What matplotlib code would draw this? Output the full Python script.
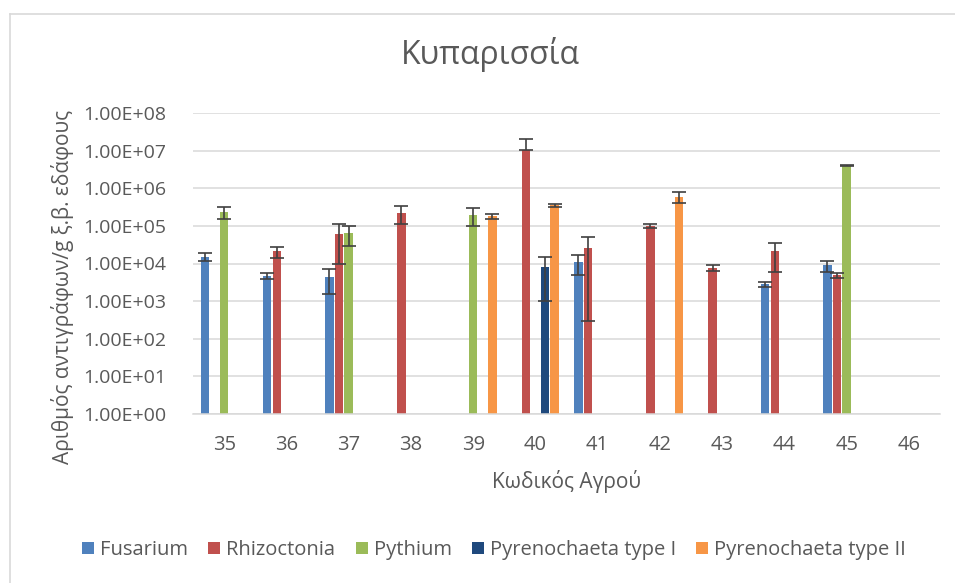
import matplotlib
matplotlib.use('Agg')
import matplotlib.pyplot as plt
from matplotlib.lines import Line2D
from matplotlib.patches import Patch
import numpy as np

plt.rcParams['font.family'] = ['Open Sans', 'DejaVu Sans']

nan = np.nan
fields = ['35', '36', '37', '38', '39', '40', '41', '42', '43', '44', '45', '46']

series = ['Fusarium', 'Rhizoctonia', 'Pythium', 'Pyrenochaeta type I', 'Pyrenochaeta type II']
colors = ['#4F81BD', '#C0504D', '#9BBB59', '#1F497D', '#F79646']

fusarium = [1.5e4, 4.7e3, 4.3e3, nan, nan, nan, 1.1e4, nan, nan, 2.8e3, 8.9e3, nan]
fusarium_err = [3.5e3, 8e2, 2.8e3, nan, nan, nan, 6e3, nan, nan, 4e2, 3e3, nan]

rhizoctonia = [nan, 2.1e4, 6e4, 2.2e5, nan, 1.05e7, 2.6e4, 1e5, 7.8e3, 2.1e4, 4.9e3, nan]
rhizoctonia_err = [nan, 7e3, 5e4, 1.1e5, nan, 1.05e7, 2.57e4, 1.3e4, 1.5e3, 1.5e4, 8e2, nan]

pythium = [2.3e5, nan, 6.5e4, nan, 2e5, nan, nan, nan, nan, nan, 4e6, nan]
pythium_err = [8e4, nan, 3.5e4, nan, 1e5, nan, nan, nan, nan, nan, 1e5, nan]

pyreno1 = [nan, nan, nan, nan, nan, 8e3, nan, nan, nan, nan, nan, nan]
pyreno1_err = [nan, nan, nan, nan, nan, 7e3, nan, nan, nan, nan, nan, nan]

pyreno2 = [nan, nan, nan, nan, 1.8e5, 3.5e5, nan, 6e5, nan, nan, nan, nan]
pyreno2_err = [nan, nan, nan, nan, 2.4e4, 3.5e4, nan, 2e5, nan, nan, nan, nan]

values = [fusarium, rhizoctonia, pythium, pyreno1, pyreno2]
errors = [fusarium_err, rhizoctonia_err, pythium_err, pyreno1_err, pyreno2_err]

text_col = '#595959'
grid_col = '#D9D9D9'

fig = plt.figure(figsize=(9.55, 5.83), dpi=100)
ax = fig.add_axes([193/955, 1 - 414/583, (940 - 193)/955, (414 - 113)/583])

x = np.arange(len(fields))
slot = 0.154
width = 0.137
for i, (vals, errs, col) in enumerate(zip(values, errors, colors)):
    v = np.array(vals, dtype=float)
    e = np.array(errs, dtype=float)
    pos = x + (i - 2) * slot
    ax.bar(pos, v, width=width, color=col, zorder=2)
    # a lower bar that would reach zero is cut at the bar top on the log axis
    lower = np.where(e < v, e, 0.0)
    ax.errorbar(pos, v, yerr=[lower, e], fmt='none', ecolor='#404040',
                elinewidth=1.2, capsize=5, capthick=1.2, zorder=3)

ax.set_yscale('log')
ax.set_ylim(1, 1e8)
ax.set_xlim(-0.5, len(fields) - 0.5)
ax.set_yticks([10.0**k for k in range(9)])
ax.set_yticklabels(['1.00E+%02d' % k for k in range(9)])
ax.yaxis.set_minor_locator(matplotlib.ticker.NullLocator())
ax.set_xticks(x)
ax.set_xticklabels(fields)

ax.grid(axis='y', color=grid_col, linewidth=1.1, zorder=0)
ax.set_axisbelow(True)
for s in ['top', 'right', 'left']:
    ax.spines[s].set_visible(False)
ax.spines['bottom'].set_color(grid_col)
ax.spines['bottom'].set_linewidth(1.1)
ax.tick_params(axis='both', length=0, colors=text_col)
ax.tick_params(axis='y', labelsize=14, pad=19)
ax.tick_params(axis='x', labelsize=14.5, pad=15)

ax.set_xlabel('Κωδικός Αγρού', fontsize=15, color=text_col, labelpad=11)
fig.text(63/955, 1 - 287/583, 'Αριθμός αντιγράφων/g ξ.β. εδάφους', rotation=90,
         ha='center', va='center', fontsize=15, color=text_col)
fig.text(490/955, 1 - 54/583, 'Κυπαρισσία', ha='center', va='center',
         fontsize=23, color=text_col)

handles = [Patch(facecolor=c, edgecolor='none') for c in colors]
fig.legend(handles, series, loc='center', bbox_to_anchor=(494/955, 1 - 550/583),
           ncol=5, frameon=False, fontsize=14.5, handlelength=0.6, handleheight=0.6,
           handletextpad=0.3, columnspacing=1.0, labelcolor=text_col)

# chart area frame
fig.add_artist(Line2D([10/955, 10/955], [0, 1 - 14/583], transform=fig.transFigure,
                      color=grid_col, linewidth=1.2))
fig.add_artist(Line2D([10/955, 1], [1 - 14/583, 1 - 14/583], transform=fig.transFigure,
                      color=grid_col, linewidth=1.2))

fig.savefig('out.png', dpi=100)
